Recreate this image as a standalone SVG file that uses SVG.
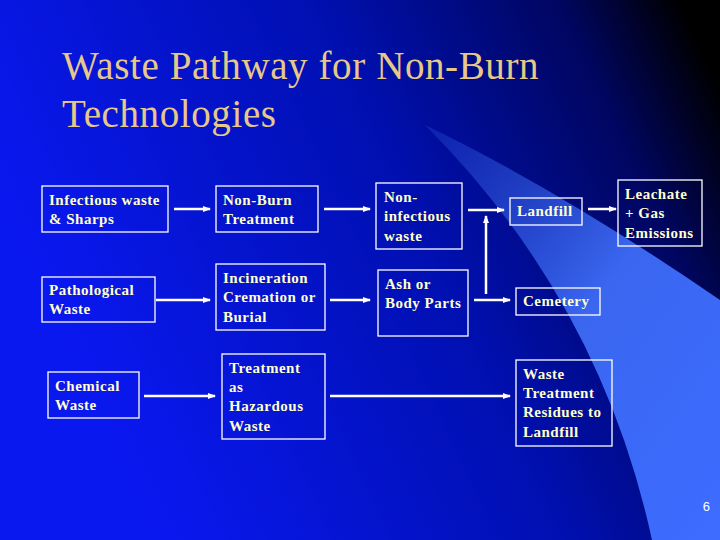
<svg xmlns="http://www.w3.org/2000/svg" width="720" height="540" viewBox="0 0 720 540">
<defs>
<linearGradient id="bg" x1="0" y1="0.35" x2="1" y2="0"><stop offset="0" stop-color="#0a18f0"/><stop offset="0.5" stop-color="#0010b0"/><stop offset="0.8" stop-color="#000660"/><stop offset="0.95" stop-color="#000000"/></linearGradient>
<linearGradient id="sw" x1="0" y1="0" x2="1" y2="1"><stop offset="0" stop-color="#2a50d8" stop-opacity="0.3"/><stop offset="0.5" stop-color="#3a66f0"/><stop offset="1" stop-color="#3d6cff"/></linearGradient>
<marker id="ah" markerWidth="8" markerHeight="6" refX="7" refY="3" orient="auto" markerUnits="userSpaceOnUse"><path d="M0,0 L8,3 L0,6 Z" fill="#fff"/></marker>
<style>
.b{fill:none;stroke:#fff;stroke-width:1.3}
.t{font-family:"Liberation Serif",serif;font-weight:bold;font-size:15px;letter-spacing:0.5px;fill:#ffffcc}
.c line{stroke:#fff;stroke-width:2.5;fill:none;marker-end:url(#ah)}
.h{font-family:"Liberation Serif",serif;font-size:39px;letter-spacing:0.6px;fill:#e8c888}
</style>
</defs>
<rect width="720" height="540" fill="url(#bg)"/>
<path d="M425,125 Q560,190 720,300 L720,540 L652,540 Q600,300 425,125 Z" fill="url(#sw)"/>
<text class="h" x="62" y="79">Waste Pathway for Non-Burn</text>
<text class="h" x="62" y="127">Technologies</text>
<g id="n1"><rect class="b" x="42" y="186" width="126" height="46"/><text class="t" x="49" y="205">Infectious waste</text><text class="t" x="49" y="224">&amp; Sharps</text></g>
<g id="n2"><rect class="b" x="216" y="186" width="102" height="46"/><text class="t" x="223" y="205">Non-Burn</text><text class="t" x="223" y="224">Treatment</text></g>
<g id="n3"><rect class="b" x="42" y="277" width="113" height="45"/><text class="t" x="49" y="295">Pathological</text><text class="t" x="49" y="314">Waste</text></g>
<g id="n4"><rect class="b" x="216" y="264" width="109" height="66"/><text class="t" x="223" y="283">Incineration</text><text class="t" x="223" y="302">Cremation or</text><text class="t" x="223" y="322">Burial</text></g>
<g id="n5"><rect class="b" x="48" y="372" width="91" height="46"/><text class="t" x="55" y="391">Chemical</text><text class="t" x="55" y="410">Waste</text></g>
<g id="n6"><rect class="b" x="222" y="354" width="103" height="85"/><text class="t" x="229" y="373">Treatment</text><text class="t" x="229" y="392">as</text><text class="t" x="229" y="411">Hazardous</text><text class="t" x="229" y="431">Waste</text></g>
<g id="n7"><rect class="b" x="376" y="183" width="86" height="66"/><text class="t" x="384" y="202">Non-</text><text class="t" x="384" y="221">infectious</text><text class="t" x="384" y="241">waste</text></g>
<g id="n8"><rect class="b" x="378" y="270" width="90" height="66"/><text class="t" x="385" y="289">Ash or</text><text class="t" x="385" y="308">Body Parts</text></g>
<g id="n9"><rect class="b" x="510" y="198" width="72" height="27"/><text class="t" x="517" y="216">Landfill</text></g>
<g id="n10"><rect class="b" x="516" y="288" width="84" height="27"/><text class="t" x="523" y="306">Cemetery</text></g>
<g id="n11"><rect class="b" x="618" y="180" width="84" height="66"/><text class="t" x="625" y="199">Leachate</text><text class="t" x="625" y="218">+ Gas</text><text class="t" x="625" y="238">Emissions</text></g>
<g id="n12"><rect class="b" x="516" y="360" width="96" height="86"/><text class="t" x="523" y="379">Waste</text><text class="t" x="523" y="398">Treatment</text><text class="t" x="523" y="417">Residues to</text><text class="t" x="523" y="437">Landfill</text></g>
<g class="c" id="connectors">
<line x1="174" y1="209" x2="210" y2="209"/>
<line x1="324" y1="209" x2="370" y2="209"/>
<line x1="468" y1="210" x2="504" y2="210"/>
<line x1="588" y1="209" x2="616" y2="209"/>
<line x1="486" y1="294" x2="486" y2="216"/>
<line x1="156" y1="300" x2="210" y2="300"/>
<line x1="330" y1="300" x2="370" y2="300"/>
<line x1="474" y1="300" x2="510" y2="300"/>
<line x1="144" y1="396" x2="215" y2="396"/>
<line x1="330" y1="396" x2="510" y2="396"/>
</g>
<text x="710" y="511" text-anchor="end" font-family="Liberation Sans,sans-serif" font-size="13" fill="#fff">6</text>
</svg>
